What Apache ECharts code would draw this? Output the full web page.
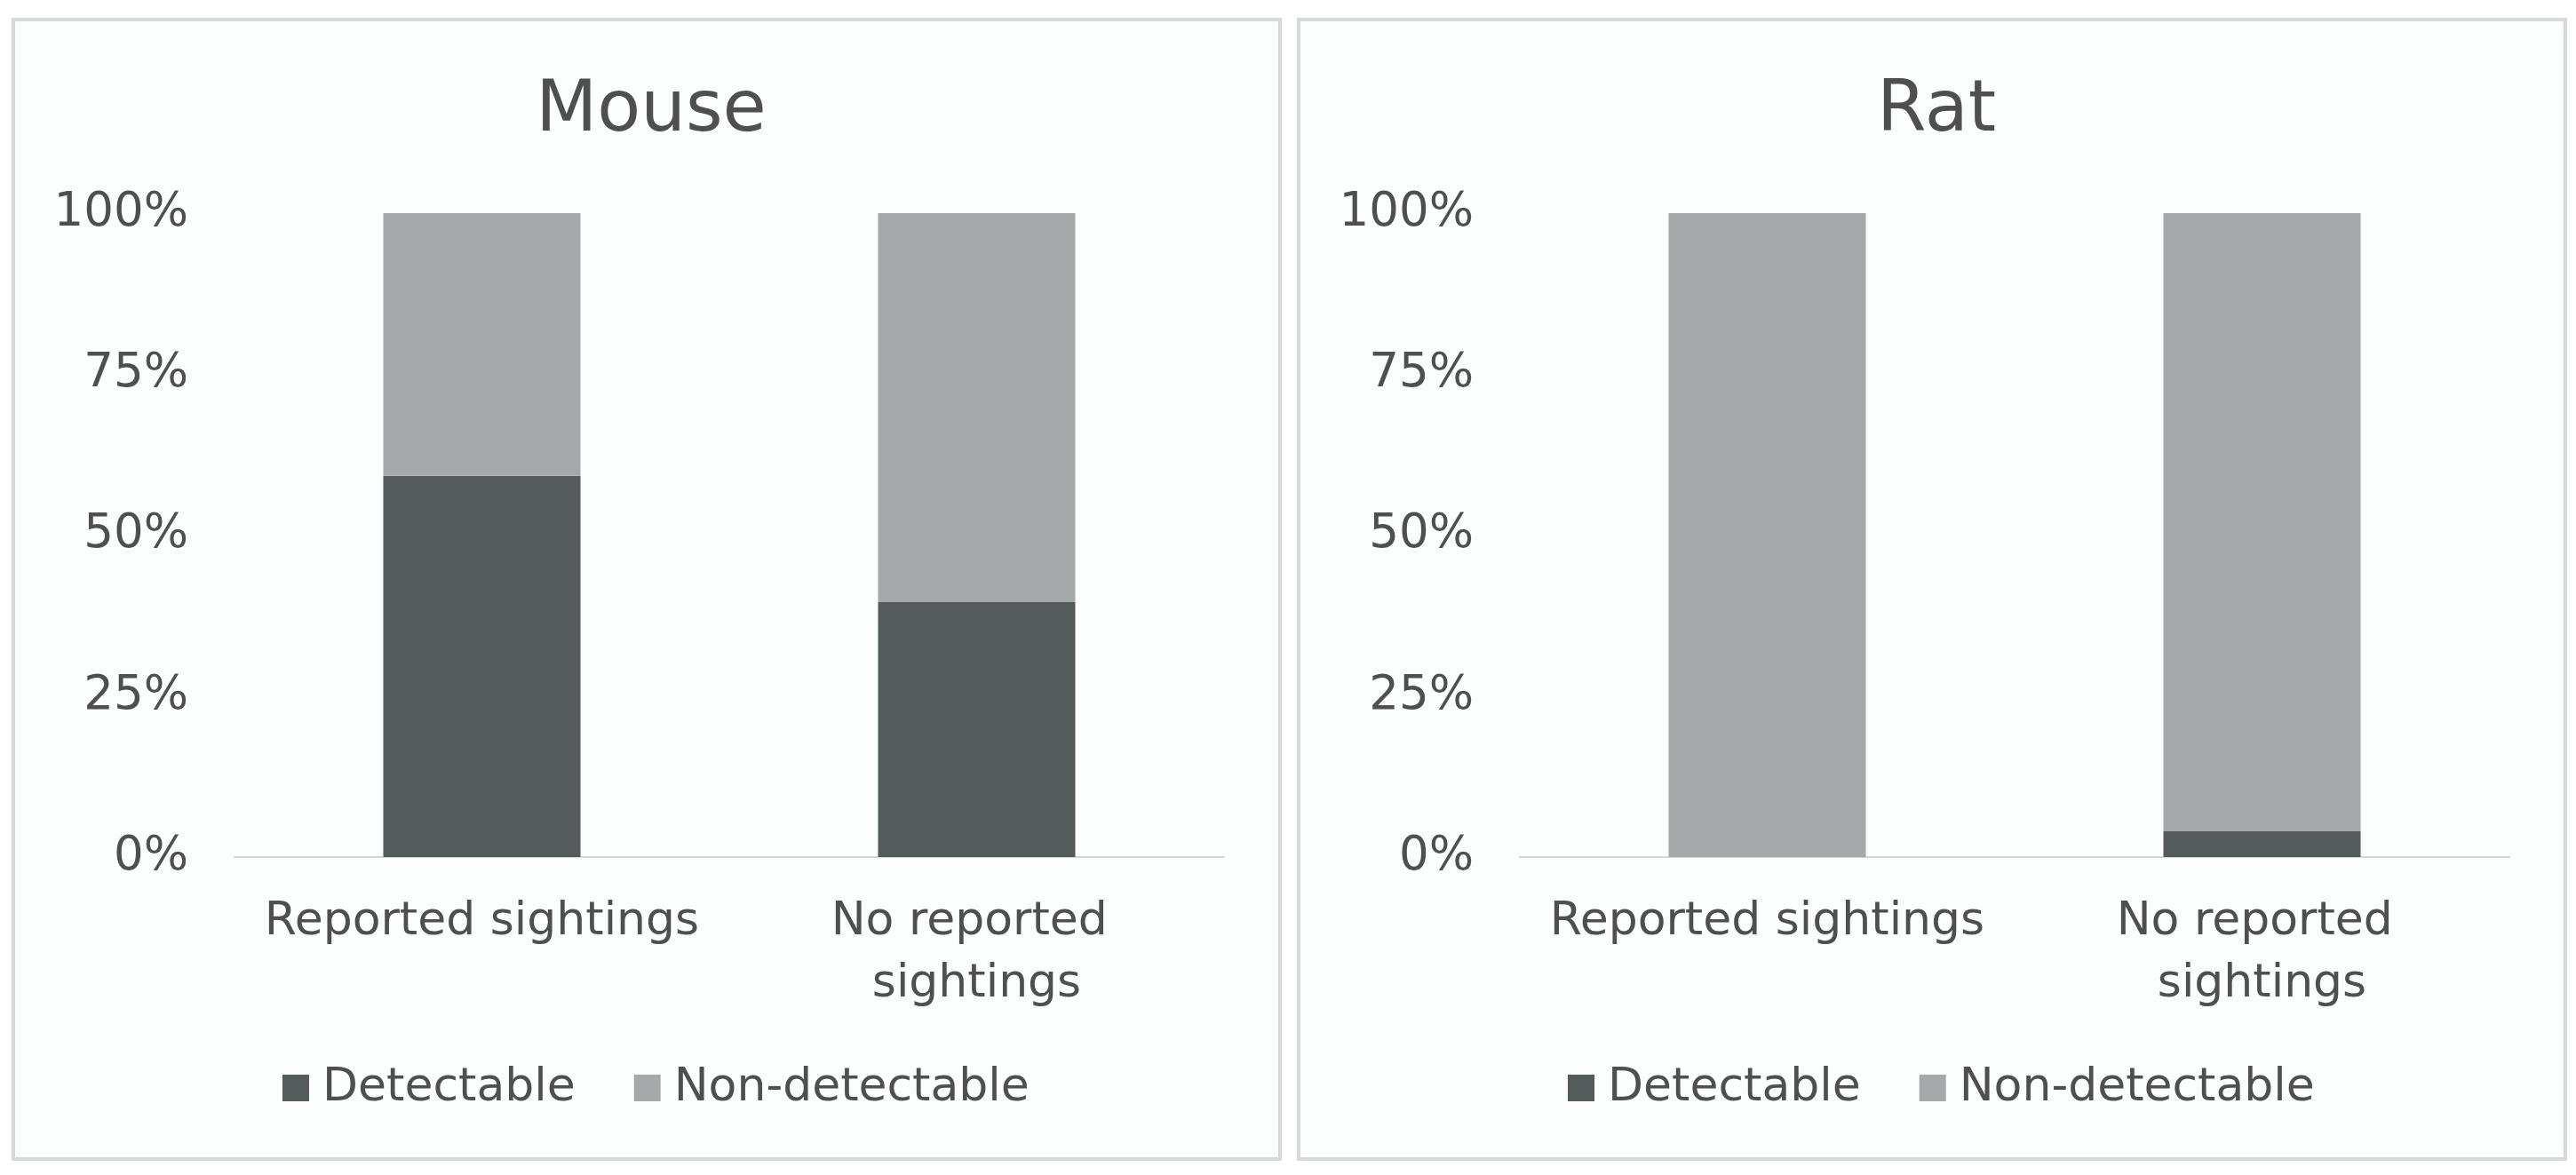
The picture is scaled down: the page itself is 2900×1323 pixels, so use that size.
<!DOCTYPE html>
<html>
<head>
<meta charset="utf-8">
<script src="https://cdn.jsdelivr.net/npm/echarts@6/dist/echarts.min.js"></script>
<style>
html,body{margin:0;padding:0;background:#ffffff;}
#chart{width:2900px;height:1323px;}
</style>
</head>
<body>
<div id="chart"></div>
<script>
// ---- Data ----
const categories = ['Reported sightings', 'No reported sightings'];
const panelTitles = ['Mouse', 'Rat'];
const seriesNames = ['Detectable', 'Non-detectable'];
const mouseDetectable = [59.2, 39.6];
const mouseNonDetectable = [40.8, 60.4];
const ratDetectable = [0, 4];
const ratNonDetectable = [100, 96];
const yTicks = [0, 25, 50, 75, 100];

// ---- Styling ----
const FONT = 'DejaVu Sans';
const TEXT = '#4f4f4f';
const DARK = '#555a5b';
const LIGHT = '#a6a9aa';
const panelOffset = 1447;

const chart = echarts.init(document.getElementById('chart'), null, {renderer: 'canvas'});

const grids = [0, 1].map(i => ({left: 264 + i * panelOffset, top: 240, width: 1114, height: 725, containLabel: false}));

const xAxes = [0, 1].map(i => ({
  type: 'category', gridIndex: i, data: categories,
  axisLine: {show: true, lineStyle: {color: '#d3d7d9', width: 2}},
  axisTick: {show: false},
  axisLabel: {interval: 0, color: TEXT, fontFamily: FONT, fontSize: 52, lineHeight: 70,
              margin: 38, width: 557, overflow: 'break'}
}));

const yAxes = [0, 1].map(i => ({
  type: 'value', gridIndex: i, min: yTicks[0], max: yTicks[yTicks.length - 1], interval: 25,
  axisLine: {show: false}, axisTick: {show: false}, splitLine: {show: false},
  axisLabel: {color: TEXT, fontFamily: FONT, fontSize: 53, margin: 52, formatter: '{value}%'}
}));

const panelData = [[mouseDetectable, mouseNonDetectable], [ratDetectable, ratNonDetectable]];
const series = [];
[0, 1].forEach(i => {
  [0, 1].forEach(j => {
    series.push({
      name: seriesNames[j], type: 'bar', stack: 'p' + i,
      xAxisIndex: i, yAxisIndex: i, barWidth: 222,
      itemStyle: {color: j === 0 ? DARK : LIGHT},
      data: panelData[i][j], emphasis: {disabled: true}
    });
  });
});

const titles = [0, 1].map(i => ({
  text: panelTitles[i], left: 728 + i * panelOffset, top: 81, textAlign: 'center',
  textStyle: {color: TEXT, fontFamily: FONT, fontSize: 80, fontWeight: 'normal'}
}));

const legends = [0, 1].map(i => ({
  data: seriesNames, left: 313 + i * panelOffset, top: 1194, orient: 'horizontal',
  icon: 'rect', itemWidth: 30, itemHeight: 30, itemGap: 66,
  textStyle: {color: TEXT, fontFamily: FONT, fontSize: 52, padding: [0, 0, 0, 10]},
  selectedMode: false
}));

const graphic = [0, 1].map(i => ({
  type: 'rect', z: -10, silent: true,
  shape: {x: 15 + i * panelOffset, y: 22, width: 1426, height: 1283},
  style: {fill: '#fcfdfd', stroke: '#d6d8d9', lineWidth: 4}
}));

chart.setOption({
  backgroundColor: '#ffffff',
  animation: false,
  title: titles,
  legend: legends,
  grid: grids,
  xAxis: xAxes,
  yAxis: yAxes,
  series: series,
  graphic: graphic
});
</script>
</body>
</html>
